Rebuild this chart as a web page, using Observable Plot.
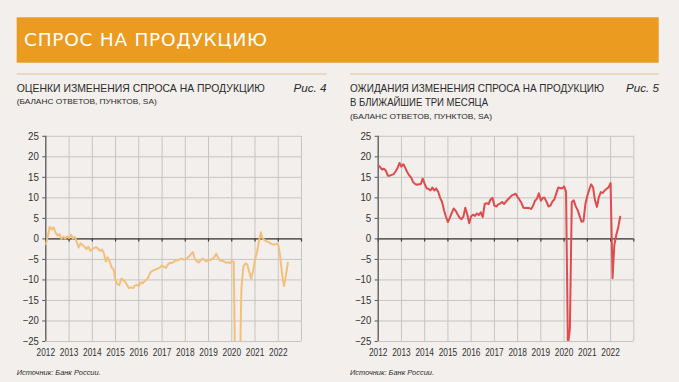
<!DOCTYPE html>
<html><head><meta charset="utf-8">
<script src="https://cdn.jsdelivr.net/npm/d3@7"></script>
<script src="https://cdn.jsdelivr.net/npm/@observablehq/plot@0.6"></script>
<style>
html,body{margin:0;padding:0;background:#f2efec;}
#root{position:relative;width:679px;height:382px;overflow:hidden;background:#f2efec;}
.panel{position:absolute;top:120px;}
</style></head>
<body><div id="root"></div>
<script>
// ---- texts ----
const headerTitle = "СПРОС НА ПРОДУКЦИЮ";
const leftTitle = "ОЦЕНКИ ИЗМЕНЕНИЯ СПРОСА НА ПРОДУКЦИЮ";
const leftFig = "Рис. 4";
const rightTitle1 = "ОЖИДАНИЯ ИЗМЕНЕНИЯ СПРОСА НА ПРОДУКЦИЮ";
const rightTitle2 = "В БЛИЖАЙШИЕ ТРИ МЕСЯЦА";
const rightFig = "Рис. 5";
const subtitle = "(БАЛАНС ОТВЕТОВ, ПУНКТОВ, SA)";
const source = "Источник: Банк России.";

// ---- axis ticks ----
const yearLabels = ["2012","2013","2014","2015","2016","2017","2018","2019","2020","2021","2022"];
const yTicks = [-25,-20,-15,-10,-5,0,5,10,15,20,25];
const startYear = 2012, startMonth = 0; // series start: January 2012, monthly

// ---- series (monthly, Jan 2012 – Jun 2022) ----
const assessment = [ // Рис. 4
  -1.3, 0.5, 2.9, 2.3, 2.8, 1.6, 0.8, 1.2, 0.0, 0.5, 0.1, 0.6,
  0.2, 1.0, 0.1, 0.5, -0.7, -2.1, -1.1, -1.5, -1.9, -2.5, -1.9, -2.9,
  -2.5, -2.2, -2.0, -2.4, -2.9, -2.6, -3.4, -5.5, -4.5, -5.5, -7.0, -7.4,
  -10.2, -11.0, -11.3, -9.7, -10.0, -10.5, -11.2, -12.0, -11.8, -12.0, -11.4, -11.2,
  -11.5, -10.6, -10.8, -10.3, -10.0, -9.2, -8.2, -7.8, -7.6, -7.4, -7.2, -6.9,
  -6.5, -6.8, -7.1, -6.3, -5.8, -5.9, -5.6, -5.3, -5.2, -5.0, -4.8, -5.0,
  -5.0, -4.6, -4.3, -3.7, -3.2, -5.0, -5.4, -5.8, -5.2, -4.8, -5.2, -5.5,
  -5.0, -5.2, -4.8, -4.5, -3.6, -4.6, -5.3, -5.3, -5.5, -5.8, -5.7, -5.9,
  -5.4, -5.6, -40.0, -45.0, -38.0, -12.0, -6.8, -6.0, -6.2, -8.0, -9.7, -7.8,
  -5.0, -3.2, -0.8, 1.6, 0.1, -0.3, -0.6, -0.8, -1.1, -1.3, -1.4, -1.2,
  -1.4, -4.3, -8.5, -11.5, -9.0, -5.8
];
const expectations = [ // Рис. 5
  17.9, 17.5, 16.9, 17.1, 16.6, 15.4, 15.4, 15.6, 15.8, 16.5, 17.3, 18.5,
  17.6, 18.2, 17.3, 16.3, 15.5, 15.0, 13.9, 13.4, 13.2, 13.3, 13.4, 14.7,
  13.4, 12.3, 12.2, 11.8, 12.5, 11.8, 12.3, 11.5, 10.0, 9.0, 7.0, 5.4,
  4.1, 5.2, 6.3, 7.4, 6.9, 6.0, 5.2, 4.8, 5.4, 7.6, 6.0, 3.8,
  5.5, 5.9, 5.6, 6.2, 5.8, 6.5, 5.3, 8.5, 8.7, 8.5, 9.6, 10.0,
  8.1, 7.9, 8.4, 8.6, 9.0, 8.5, 9.1, 9.6, 10.1, 10.6, 10.8, 11.0,
  10.2, 9.5, 8.8, 7.6, 7.5, 7.5, 7.5, 7.3, 8.1, 9.3, 9.8, 11.1,
  9.3, 10.0, 10.0, 9.0, 7.9, 8.1, 9.1, 9.6, 11.1, 12.5, 12.4, 12.3,
  12.8, 11.5, -26.0, -22.0, 9.0, 9.4, 8.0, 7.0, 5.6, 4.2, 4.3, 8.5,
  10.5, 12.1, 13.3, 12.5, 9.4, 7.8, 10.2, 11.4, 11.2, 11.8, 12.2, 12.6,
  13.6, -9.6, -1.5, 1.0, 2.8, 5.4
];

const FONT = "'Liberation Sans Narrow','Arial Narrow','Liberation Sans',sans-serif";
const root = document.getElementById("root");

// ---- header overlay ----
const ov = d3.select(root).append("svg")
  .attr("width", 679).attr("height", 382)
  .style("position", "absolute").style("left", 0).style("top", 0);
ov.append("rect").attr("x", 16.7).attr("y", 17.3).attr("width", 642).attr("height", 45.4).attr("fill", "#ec9b21");
ov.append("text").text(headerTitle).attr("x", 24).attr("y", 46.3)
  .attr("fill", "#fff").attr("font-family", "'DejaVu Sans',sans-serif").attr("font-size", 18.5)
  .attr("textLength", 243).attr("lengthAdjust", "spacing");
ov.append("line").attr("x1", 16.7).attr("x2", 326.7).attr("y1", 74).attr("y2", 74).attr("stroke", "#dcc49c").attr("stroke-width", 1);
ov.append("line").attr("x1", 350).attr("x2", 659).attr("y1", 74).attr("y2", 74).attr("stroke", "#dcc49c").attr("stroke-width", 1);

function txt(s, x, y, size, opts = {}) {
  const t = ov.append("text").text(s).attr("x", x).attr("y", y)
    .attr("font-family", FONT).attr("font-size", size).attr("fill", opts.fill || "#2b2b2b");
  if (opts.italic) t.attr("font-style", "italic");
  if (opts.anchor) t.attr("text-anchor", opts.anchor);
  if (opts.len) t.attr("textLength", opts.len).attr("lengthAdjust", "spacingAndGlyphs");
  return t;
}
txt(leftTitle, 16.7, 91.7, 10.8, {len: 248});
txt(leftFig, 293.5, 91.7, 10.8, {italic: true, len: 33});
txt(subtitle, 16.7, 104.3, 8, {len: 140});
txt(rightTitle1, 350, 91.7, 10.8, {len: 254});
txt(rightFig, 626, 91.7, 10.8, {italic: true, len: 33});
txt(rightTitle2, 350, 105.5, 10.8, {len: 138});
txt(subtitle, 350, 118.5, 8, {len: 142});
txt(source, 16.7, 375, 8, {italic: true, len: 84});
txt(source, 350, 375, 8, {italic: true, len: 84});

// ---- charts ----
const dates = assessment.map((_, i) => new Date(Date.UTC(startYear, startMonth + i, 1)));
const yearDates = yearLabels.map(y => new Date(Date.UTC(+y, 0, 1)));
const gridDates = [...yearDates, new Date(Date.UTC(+yearLabels[yearLabels.length - 1] + 1, 0, 1))];

function chart(values, color, left, mLeft, mRight) {
  const data = values.map((v, i) => ({date: dates[i], value: v}));
  const p = Plot.plot({
    width: 320, height: 250,
    marginLeft: mLeft, marginRight: mRight, marginTop: 15.8, marginBottom: 29,
    style: {background: "transparent", fontFamily: FONT, fontSize: "10.5px", color: "#333", overflow: "visible"},
    x: {type: "utc", domain: [gridDates[0], gridDates[gridDates.length - 1]], label: null},
    y: {domain: [-25, 25], label: null},
    marks: [
      Plot.gridX(gridDates, {stroke: "#c7c5c3", strokeOpacity: 1, strokeWidth: 1}),
      Plot.gridY(yTicks, {stroke: "#c7c5c3", strokeOpacity: 1, strokeWidth: 1}),
      Plot.ruleY([0], {stroke: "#3a3a3a", strokeWidth: 1.2}),
      Plot.ruleX(gridDates, {y1: 0, y2: -0.75, stroke: "#3a3a3a", strokeWidth: 1.2}),
      Plot.ruleX([gridDates[0]], {stroke: "#555", strokeWidth: 1.2}),
      Plot.axisX(yearDates, {tickSize: 0, tickPadding: 7, tickFormat: (d, i) => yearLabels[i], fill: "#333", label: null}),
      Plot.axisY(yTicks, {tickSize: 3, tickPadding: 4, fill: "#333", stroke: "#555", label: null}),
      Plot.lineY(data, {x: "date", y: "value", stroke: color, strokeWidth: 2, clip: true, curve: "linear"})
    ]
  });
  // fit year labels to the narrow type of the reference
  d3.select(p).selectAll('g[aria-label="x-axis tick label"] text')
    .attr("textLength", 18.5).attr("lengthAdjust", "spacingAndGlyphs");
  d3.select(p).selectAll('g[aria-label="y-axis tick label"] text')
    .each(function() {
      const s = this.textContent;
      this.setAttribute("textLength", 5.4 * s.replace("-", "").length + (s.startsWith("-") ? 4 : 0));
      this.setAttribute("lengthAdjust", "spacingAndGlyphs");
    });
  p.classList.add("panel");
  p.style.left = left + "px";
  root.appendChild(p);
}
chart(assessment, "#f3c07c", 0, 45.3, 19);
chart(expectations, "#e04b4d", 340, 37.7, 26.7);
</script>
</body></html>
